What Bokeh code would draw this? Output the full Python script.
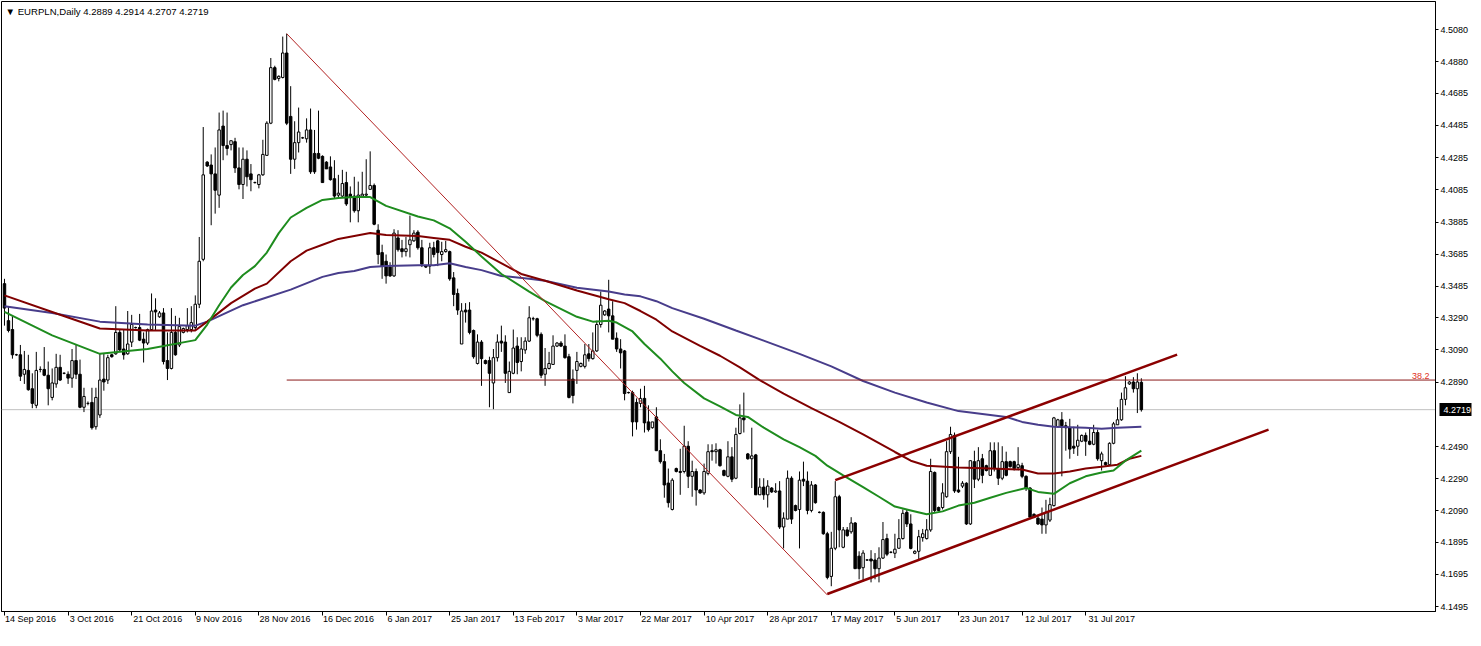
from bokeh.plotting import figure
from bokeh.models import (ColumnDataSource, Range1d, FixedTicker, Label, PrintfTickFormatter,
                          CustomJSTickFormatter, LinearAxis)
from bokeh.embed import file_html
from bokeh.resources import INLINE

# ---------------- data (EURPLN daily) ----------------
opens = [
    4.3502, 4.3272, 4.3217, 4.3060, 4.3060, 4.2939, 4.2963, 4.2849, 4.2746, 4.2969, 4.2969, 4.2933,
    4.2795, 4.2879, 4.2982, 4.2945, 4.2939, 4.2915, 4.3024, 4.2939, 4.2734, 4.2758, 4.2764, 4.2613,
    4.2686, 4.2909, 4.2903, 4.3060, 4.3066, 4.3199, 4.3096, 4.3066, 4.3139, 4.3229, 4.3229, 4.3157,
    4.3133, 4.3217, 4.3338, 4.3296, 4.3320, 4.3024, 4.2975, 4.3199, 4.3121, 4.3199, 4.3217, 4.3217,
    4.3229, 4.3374, 4.3653, 4.4257, 4.4239, 4.4184, 4.4052, 4.4481, 4.4360, 4.4366, 4.4384, 4.4221,
    4.4118, 4.4275, 4.4184, 4.4130, 4.4118, 4.4178, 4.4299, 4.4499, 4.4844, 4.4777, 4.4783, 4.4935,
    4.4541, 4.4275, 4.4378, 4.4408, 4.4402, 4.4457, 4.4311, 4.4311, 4.4293, 4.4257, 4.4227, 4.4154,
    4.4052, 4.4046, 4.4130, 4.4058, 4.4046, 4.3955, 4.4046, 4.4052, 4.4088, 4.4112, 4.3834, 4.3695,
    4.3641, 4.3605, 4.3550, 4.3786, 4.3719, 4.3701, 4.3744, 4.3768, 4.3822, 4.3725, 4.3611, 4.3611,
    4.3725, 4.3768, 4.3683, 4.3701, 4.3701, 4.3538, 4.3441, 4.3127, 4.3338, 4.3338, 4.3211, 4.3006,
    4.3139, 4.3024, 4.3024, 4.2885, 4.3042, 4.3145, 4.3139, 4.2825, 4.2945, 4.3114, 4.3018, 4.3090,
    4.3145, 4.3284, 4.3284, 4.3187, 4.2939, 4.2975, 4.3000, 4.3114, 4.3133, 4.3114, 4.3048, 4.2909,
    4.2963, 4.2988, 4.2988, 4.3066, 4.3036, 4.3084, 4.3248, 4.3308, 4.3344, 4.3302, 4.3163, 4.3096,
    4.3084, 4.2825, 4.2825, 4.2764, 4.2758, 4.2789, 4.2643, 4.2607, 4.2674, 4.2464, 4.2396, 4.2263,
    4.2099, 4.2353, 4.2335, 4.2335, 4.2492, 4.2305, 4.2335, 4.2220, 4.2202, 4.2323, 4.2464, 4.2458,
    4.2470, 4.2341, 4.2305, 4.2426, 4.2293, 4.2571, 4.2668, 4.2444, 4.2414, 4.2438, 4.2190, 4.2238,
    4.2190, 4.2232, 4.2208, 4.2214, 4.1990, 4.2039, 4.2293, 4.2123, 4.2099, 4.2287, 4.2275, 4.2093,
    4.2251, 4.2081, 4.2081, 4.1948, 4.1683, 4.1858, 4.2178, 4.1864, 4.1972, 4.1960, 4.2015, 4.1809,
    4.1737, 4.1785, 4.1791, 4.1785, 4.1731, 4.1797, 4.1918, 4.1833, 4.1827, 4.1858, 4.1918, 4.2081,
    4.2009, 4.1827, 4.1839, 4.1924, 4.1918, 4.1972, 4.2329, 4.2111, 4.2111, 4.2178, 4.2458, 4.2559,
    4.2220, 4.2244, 4.2262, 4.2009, 4.2396, 4.2287, 4.2414, 4.2371, 4.2311, 4.2464, 4.2353, 4.2293,
    4.2396, 4.2396, 4.2396, 4.2359, 4.2371, 4.2305, 4.2232, 4.2069, 4.2045, 4.2039, 4.2003, 4.2033,
    4.2123, 4.2613, 4.2656, 4.2619, 4.2607, 4.2492, 4.2492, 4.2523, 4.2559, 4.2523, 4.2504, 4.2577,
    4.2402, 4.2390, 4.2377, 4.2510, 4.2625, 4.2656, 4.2783, 4.2879, 4.2891, 4.2849, 4.2889,
]
highs = [
    4.3532, 4.3362, 4.3302, 4.3066, 4.3121, 4.3084, 4.3060, 4.2945, 4.3078, 4.2988, 4.3108, 4.3018,
    4.2975, 4.3066, 4.3060, 4.2951, 4.2957, 4.3096, 4.3127, 4.3030, 4.2855, 4.2770, 4.2855, 4.2855,
    4.3066, 4.3066, 4.3060, 4.3066, 4.3362, 4.3217, 4.3217, 4.3332, 4.3308, 4.3235, 4.3314, 4.3199,
    4.3223, 4.3441, 4.3411, 4.3332, 4.3350, 4.3199, 4.3350, 4.3302, 4.3290, 4.3229, 4.3350, 4.3362,
    4.3429, 4.3792, 4.4475, 4.4263, 4.4305, 4.4348, 4.4565, 4.4577, 4.4565, 4.4390, 4.4408, 4.4348,
    4.4348, 4.4330, 4.4245, 4.4136, 4.4184, 4.4396, 4.4511, 4.4904, 4.4856, 4.4796, 4.5037, 4.5055,
    4.4729, 4.4511, 4.4596, 4.4414, 4.4529, 4.4590, 4.4457, 4.4577, 4.4299, 4.4263, 4.4293, 4.4269,
    4.4178, 4.4209, 4.4197, 4.4106, 4.4166, 4.4136, 4.4197, 4.4275, 4.4324, 4.4124, 4.3871, 4.3744,
    4.3683, 4.3635, 4.3840, 4.3834, 4.3774, 4.3792, 4.3925, 4.3834, 4.3834, 4.3774, 4.3617, 4.3756,
    4.3762, 4.3774, 4.3762, 4.3768, 4.3707, 4.3574, 4.3471, 4.3381, 4.3381, 4.3387, 4.3217, 4.3187,
    4.3151, 4.3030, 4.3048, 4.3096, 4.3187, 4.3241, 4.3181, 4.3018, 4.3217, 4.3169, 4.3169, 4.3169,
    4.3362, 4.3296, 4.3290, 4.3199, 4.3102, 4.3078, 4.3181, 4.3139, 4.3145, 4.3187, 4.3066, 4.2969,
    4.3078, 4.3012, 4.3127, 4.3127, 4.3199, 4.3272, 4.3453, 4.3338, 4.3526, 4.3393, 4.3199, 4.3157,
    4.3090, 4.2831, 4.2837, 4.2789, 4.2849, 4.2867, 4.2746, 4.2613, 4.2734, 4.2535, 4.2444, 4.2353,
    4.2293, 4.2359, 4.2476, 4.2619, 4.2523, 4.2402, 4.2353, 4.2226, 4.2384, 4.2504, 4.2504, 4.2510,
    4.2476, 4.2347, 4.2523, 4.2486, 4.2607, 4.2752, 4.2825, 4.2450, 4.2607, 4.2444, 4.2293, 4.2293,
    4.2281, 4.2238, 4.2262, 4.2275, 4.2081, 4.2341, 4.2305, 4.2129, 4.2335, 4.2396, 4.2335, 4.2275,
    4.2257, 4.2087, 4.2087, 4.1960, 4.1960, 4.2275, 4.2190, 4.1990, 4.1990, 4.2051, 4.2021, 4.1839,
    4.1846, 4.1791, 4.1846, 4.1828, 4.1864, 4.2021, 4.1948, 4.1839, 4.1948, 4.2039, 4.2099, 4.2099,
    4.2069, 4.1845, 4.1972, 4.1978, 4.2039, 4.2414, 4.2335, 4.2117, 4.2262, 4.2523, 4.2613, 4.2577,
    4.2426, 4.2275, 4.2268, 4.2402, 4.2464, 4.2486, 4.2444, 4.2377, 4.2516, 4.2516, 4.2516, 4.2492,
    4.2458, 4.2402, 4.2402, 4.2486, 4.2389, 4.2311, 4.2238, 4.2075, 4.2063, 4.2111, 4.2159, 4.2172,
    4.2674, 4.2662, 4.2704, 4.2643, 4.2662, 4.2613, 4.2625, 4.2565, 4.2577, 4.2607, 4.2625, 4.2595,
    4.2458, 4.2396, 4.2516, 4.2643, 4.2734, 4.2825, 4.2927, 4.2897, 4.2921, 4.2945, 4.2914,
]
lows = [
    4.3241, 4.3199, 4.3036, 4.3054, 4.2897, 4.2879, 4.2837, 4.2728, 4.2728, 4.2951, 4.2927, 4.2746,
    4.2777, 4.2855, 4.2897, 4.2939, 4.2879, 4.2855, 4.2909, 4.2728, 4.2704, 4.2746, 4.2595, 4.2595,
    4.2668, 4.2837, 4.2879, 4.3042, 4.3060, 4.3078, 4.3030, 4.3060, 4.3108, 4.3223, 4.3145, 4.3012,
    4.3121, 4.3211, 4.3211, 4.3290, 4.3000, 4.2903, 4.2969, 4.3054, 4.3108, 4.3193, 4.3199, 4.3199,
    4.3211, 4.3350, 4.3641, 4.4227, 4.3865, 4.3937, 4.3973, 4.4269, 4.4299, 4.4330, 4.4190, 4.4088,
    4.4028, 4.4106, 4.4076, 4.4124, 4.4094, 4.4172, 4.4299, 4.4493, 4.4765, 4.4759, 4.4777, 4.4487,
    4.4184, 4.4215, 4.4317, 4.4402, 4.4378, 4.4184, 4.4184, 4.4275, 4.4130, 4.4215, 4.4142, 4.4034,
    4.4034, 4.4034, 4.3985, 4.3883, 4.3943, 4.3883, 4.4034, 4.4034, 4.4088, 4.3865, 4.3623, 4.3532,
    4.3502, 4.3544, 4.3544, 4.3701, 4.3665, 4.3671, 4.3665, 4.3762, 4.3713, 4.3605, 4.3599, 4.3563,
    4.3665, 4.3611, 4.3641, 4.3695, 4.3520, 4.3362, 4.3308, 4.3127, 4.3260, 4.3187, 4.3036, 4.3000,
    4.2867, 4.3000, 4.2734, 4.2722, 4.3018, 4.3078, 4.2885, 4.2825, 4.2939, 4.2939, 4.2957, 4.3066,
    4.3139, 4.3272, 4.3169, 4.2915, 4.2867, 4.2969, 4.3000, 4.3108, 4.3108, 4.3036, 4.2789, 4.2758,
    4.2879, 4.2982, 4.2975, 4.3018, 4.3030, 4.3078, 4.3229, 4.3302, 4.3199, 4.3157, 4.3078, 4.2975,
    4.2777, 4.2819, 4.2553, 4.2595, 4.2734, 4.2577, 4.2583, 4.2601, 4.2464, 4.2384, 4.2172, 4.2111,
    4.2093, 4.2329, 4.2190, 4.2323, 4.2232, 4.2178, 4.2123, 4.2196, 4.2190, 4.2311, 4.2402, 4.2384,
    4.2365, 4.2305, 4.2299, 4.2269, 4.2287, 4.2565, 4.2577, 4.2408, 4.2232, 4.2190, 4.2190, 4.2159,
    4.2111, 4.2202, 4.2202, 4.1978, 4.1857, 4.2039, 4.2009, 4.2087, 4.1857, 4.2244, 4.2069, 4.2081,
    4.2135, 4.2075, 4.1942, 4.1665, 4.1622, 4.1846, 4.1864, 4.1858, 4.1930, 4.1948, 4.1731, 4.1665,
    4.1652, 4.1779, 4.1646, 4.1665, 4.1646, 4.1791, 4.1809, 4.1827, 4.1797, 4.1857, 4.1912, 4.1990,
    4.1851, 4.1821, 4.1779, 4.1899, 4.1912, 4.1960, 4.2081, 4.2087, 4.2099, 4.2172, 4.2444, 4.2202,
    4.2202, 4.2232, 4.2003, 4.2003, 4.2232, 4.2275, 4.2262, 4.2335, 4.2311, 4.2335, 4.2251, 4.2281,
    4.2305, 4.2359, 4.2341, 4.2341, 4.2293, 4.2214, 4.2039, 4.2045, 4.2003, 4.1948, 4.1948, 4.2021,
    4.2117, 4.2607, 4.2305, 4.2464, 4.2414, 4.2444, 4.2432, 4.2517, 4.2432, 4.2498, 4.2498, 4.2402,
    4.2341, 4.2371, 4.2371, 4.2504, 4.2625, 4.2650, 4.2746, 4.2873, 4.2825, 4.2698, 4.2707,
]
closes = [
    4.3350, 4.3211, 4.3060, 4.3060, 4.2927, 4.2969, 4.2843, 4.2758, 4.2963, 4.2969, 4.2933, 4.2849,
    4.2885, 4.2982, 4.2903, 4.2945, 4.2915, 4.3024, 4.2939, 4.2734, 4.2801, 4.2758, 4.2607, 4.2795,
    4.2903, 4.2891, 4.3042, 4.3048, 4.3199, 4.3090, 4.3060, 4.3127, 4.3248, 4.3229, 4.3151, 4.3133,
    4.3217, 4.3332, 4.3326, 4.3320, 4.3018, 4.2975, 4.3199, 4.3060, 4.3235, 4.3223, 4.3241, 4.3260,
    4.3374, 4.3641, 4.4178, 4.4233, 4.4184, 4.4082, 4.4457, 4.4360, 4.4342, 4.4390, 4.4221, 4.4118,
    4.4275, 4.4166, 4.4148, 4.4130, 4.4178, 4.4305, 4.4499, 4.4844, 4.4771, 4.4790, 4.4935, 4.4499,
    4.4275, 4.4378, 4.4444, 4.4408, 4.4457, 4.4197, 4.4197, 4.4281, 4.4130, 4.4215, 4.4148, 4.4046,
    4.4064, 4.4124, 4.3997, 4.4040, 4.3955, 4.4052, 4.4058, 4.4058, 4.4112, 4.3871, 4.3683, 4.3611,
    4.3550, 4.3550, 4.3816, 4.3713, 4.3701, 4.3719, 4.3774, 4.3816, 4.3725, 4.3623, 4.3605, 4.3725,
    4.3683, 4.3695, 4.3701, 4.3713, 4.3532, 4.3435, 4.3338, 4.3332, 4.3326, 4.3199, 4.3048, 4.3139,
    4.3036, 4.3006, 4.2945, 4.3042, 4.3139, 4.3133, 4.2945, 4.2957, 4.3102, 4.3012, 4.3096, 4.3145,
    4.3290, 4.3284, 4.3181, 4.2933, 4.2975, 4.3006, 4.3114, 4.3133, 4.3114, 4.3042, 4.2795, 4.2807,
    4.3018, 4.3006, 4.3060, 4.3036, 4.3084, 4.3248, 4.3368, 4.3332, 4.3302, 4.3157, 4.3096, 4.3072,
    4.2819, 4.2825, 4.2643, 4.2643, 4.2789, 4.2637, 4.2595, 4.2643, 4.2464, 4.2396, 4.2251, 4.2141,
    4.2281, 4.2335, 4.2329, 4.2492, 4.2305, 4.2335, 4.2220, 4.2202, 4.2335, 4.2458, 4.2458, 4.2470,
    4.2371, 4.2311, 4.2426, 4.2287, 4.2565, 4.2668, 4.2656, 4.2414, 4.2432, 4.2190, 4.2238, 4.2190,
    4.2244, 4.2208, 4.2214, 4.1990, 4.2045, 4.2293, 4.2039, 4.2093, 4.2281, 4.2275, 4.2093, 4.2251,
    4.2141, 4.2081, 4.1948, 4.1677, 4.1858, 4.2178, 4.1972, 4.1972, 4.1936, 4.2015, 4.1731, 4.1731,
    4.1828, 4.1785, 4.1779, 4.1731, 4.1797, 4.1912, 4.1821, 4.1833, 4.1852, 4.1918, 4.2075, 4.2009,
    4.1857, 4.1839, 4.1930, 4.1948, 4.1972, 4.2335, 4.2093, 4.2093, 4.2202, 4.2458, 4.2565, 4.2214,
    4.2208, 4.2262, 4.2009, 4.2402, 4.2287, 4.2402, 4.2311, 4.2341, 4.2464, 4.2353, 4.2293, 4.2396,
    4.2311, 4.2365, 4.2353, 4.2377, 4.2305, 4.2232, 4.2051, 4.2051, 4.2009, 4.2003, 4.2081, 4.2129,
    4.2668, 4.2656, 4.2619, 4.2607, 4.2474, 4.2480, 4.2529, 4.2559, 4.2523, 4.2504, 4.2577, 4.2414,
    4.2444, 4.2377, 4.2510, 4.2631, 4.2656, 4.2783, 4.2855, 4.2891, 4.2849, 4.2891, 4.2719,
]

# moving averages (read at selected bars)
ma_green_bar = [0, 12, 24, 36, 48, 51, 54, 57, 60, 63, 66, 69, 72, 76, 80, 84, 88, 92, 96, 104,
                108, 112, 116, 120, 125, 132, 136, 144, 148, 152, 154, 158, 161, 165, 168, 171, 176, 180, 184, 187,
                191, 196, 200, 204, 207, 211, 216, 220, 224, 228, 232, 236, 240, 244, 248, 252, 257, 260, 264, 268,
                272, 276, 279, 282, 286]
ma_green_val = [4.3326, 4.3181, 4.3066, 4.3096, 4.3151, 4.3248, 4.3368, 4.3478, 4.3556, 4.3611,
                4.3695, 4.3816, 4.3913, 4.3973, 4.4022, 4.4034, 4.4040, 4.4040, 4.3985, 4.3919,
                4.3895, 4.3846, 4.3762, 4.3671, 4.3562, 4.3453, 4.3393, 4.3296, 4.3266, 4.3272,
                4.3260, 4.3205, 4.3127, 4.3036, 4.2957, 4.2885, 4.2789, 4.2740, 4.2686, 4.2674,
                4.2607, 4.2535, 4.2486, 4.2432, 4.2371, 4.2311, 4.2238, 4.2178, 4.2117, 4.2093,
                4.2069, 4.2087, 4.2123, 4.2141, 4.2172, 4.2202, 4.2232, 4.2208, 4.2196, 4.2262,
                4.2305, 4.2329, 4.2341, 4.2402, 4.2464]
ma_red_bar = [0, 12, 24, 36, 48, 51, 57, 63, 66, 72, 76, 80, 84, 88, 92, 96, 104, 108, 112, 116,
              120, 130, 136, 144, 152, 156, 160, 164, 168, 175, 180, 185, 190, 196, 203, 210, 216, 224, 228, 232,
              240, 248, 256, 260, 264, 268, 272, 276, 280, 283, 286]
ma_red_val = [4.3429, 4.3326, 4.3223, 4.3211, 4.3211, 4.3266, 4.3381, 4.3471, 4.3502, 4.3641,
              4.3707, 4.3744, 4.3780, 4.3798, 4.3816, 4.3804, 4.3798, 4.3786, 4.3774, 4.3731,
              4.3695, 4.3562, 4.3520, 4.3459, 4.3405, 4.3381, 4.3332, 4.3278, 4.3205, 4.3115,
              4.3054, 4.2982, 4.2903, 4.2818, 4.2728, 4.2643, 4.2565, 4.2456, 4.2402, 4.2371,
              4.2359, 4.2353, 4.2347, 4.2323, 4.2323, 4.2335, 4.2353, 4.2365, 4.2377, 4.2414,
              4.2432]
ma_blue_bar = [0, 12, 24, 36, 48, 51, 60, 72, 80, 84, 88, 92, 96, 104, 108, 112, 116, 120, 125, 132,
               136, 144, 152, 156, 160, 164, 168, 176, 184, 192, 200, 208, 216, 224, 232, 240, 248, 252, 256, 260,
               264, 272, 276, 280, 286]
ma_blue_val = [4.3362, 4.3320, 4.3266, 4.3248, 4.3241, 4.3266, 4.3368, 4.3465, 4.3544, 4.3568,
               4.3580, 4.3605, 4.3611, 4.3617, 4.3617, 4.3629, 4.3605, 4.3586, 4.3550, 4.3532,
               4.3520, 4.3477, 4.3453, 4.3435, 4.3423, 4.3393, 4.3350, 4.3284, 4.3211, 4.3139,
               4.3066, 4.2988, 4.2897, 4.2825, 4.2764, 4.2710, 4.2686, 4.2674, 4.2643, 4.2625,
               4.2613, 4.2607, 4.2601, 4.2607, 4.2613]

# drawn objects
diag_bar = [71, 207]
diag_val = [4.5055, 4.1568]
fib_level = 4.2903
fib_start_bar = 71
chan_up_bar = [209, 295]
chan_up_val = [4.2281, 4.3061]
chan_lo_bar = [207, 318]
chan_lo_val = [4.1574, 4.2595]
last_price = 4.2719

price_ticks = [4.1495, 4.1695, 4.1895, 4.2090, 4.2290, 4.2490, 4.2890, 4.3090, 4.3290,
               4.3485, 4.3685, 4.3885, 4.4085, 4.4285, 4.4485, 4.4685, 4.4880, 4.5080]
date_bars = [0, 16, 32, 48, 64, 80, 96, 112, 128, 144, 160, 176, 192, 208, 224, 240, 256, 272]
date_labels = ["14 Sep 2016", "3 Oct 2016", "21 Oct 2016", "9 Nov 2016", "28 Nov 2016",
               "16 Dec 2016", "6 Jan 2017", "25 Jan 2017", "13 Feb 2017", "3 Mar 2017",
               "22 Mar 2017", "10 Apr 2017", "28 Apr 2017", "17 May 2017", "5 Jun 2017",
               "23 Jun 2017", "12 Jul 2017", "31 Jul 2017"]
title_text = "\u25BC EURPLN,Daily  4.2889 4.2914 4.2707 4.2719"

# ---------------- figure ----------------
FONT = "Liberation Sans"
X0, X1 = -0.75, 360
Y0, Y1 = 4.1465, 4.5255
FRAME_W, FRAME_H = 1434, 610

n = len(closes)
src = ColumnDataSource(dict(
    x=list(range(n)), hi=highs, lo=lows,
    top=[max(o, c) for o, c in zip(opens, closes)],
    bot=[min(o, c) for o, c in zip(opens, closes)],
    fill=["white" if c > o else "black" for o, c in zip(opens, closes)],
))

p = figure(frame_width=FRAME_W, frame_height=FRAME_H, x_range=Range1d(X0, X1), y_range=Range1d(Y0, Y1),
           output_backend="svg", toolbar_location=None, y_axis_location="right",
           min_border_left=1, min_border_top=1, min_border_right=38, min_border_bottom=19,
           background_fill_color="white", border_fill_color="white")
p.outline_line_color = "black"
p.outline_line_width = 1
p.grid.visible = False

ya = p.yaxis[0]
ya.ticker = FixedTicker(ticks=price_ticks)
ya.formatter = PrintfTickFormatter(format="%.4f")
ya.major_label_text_font = FONT
ya.major_label_text_font_size = "9px"
ya.major_label_text_color = "black"
ya.major_tick_out = 3
ya.major_tick_in = 0
ya.minor_tick_out = 0
ya.minor_tick_in = 0
ya.major_label_standoff = 2
ya.axis_line_color = "black"

# current price marker on the price scale: one thick tick drawn back over the scale
box_axis = LinearAxis(ticker=FixedTicker(ticks=[last_price]),
                      formatter=PrintfTickFormatter(format="%.4f"),
                      major_tick_in=32, major_tick_out=0, major_tick_line_width=13,
                      major_tick_line_color="black", minor_tick_in=0, minor_tick_out=0,
                      major_label_standoff=-28, major_label_text_color="white",
                      major_label_text_font=FONT, major_label_text_font_size="9px",
                      axis_line_color=None)
p.add_layout(box_axis, "right")

# bottom axis 1: tick marks at the labelled bars
xa = p.xaxis[0]
xa.ticker = FixedTicker(ticks=date_bars)
xa.formatter = CustomJSTickFormatter(code="return ''")
xa.major_label_text_font_size = "0px"
xa.major_label_standoff = 0
xa.major_tick_out = 4
xa.major_tick_in = 0
xa.minor_tick_out = 0
xa.minor_tick_in = 0
xa.axis_line_color = "black"

# bottom axis 2: date texts, starting at their tick (MT4 style, left aligned)
px_per_bar = FRAME_W / (X1 - X0)
date_centers = [round(b + (len(t) * 4.75 / 2) / px_per_bar, 3) for b, t in zip(date_bars, date_labels)]
lab_axis = LinearAxis(ticker=FixedTicker(ticks=date_centers),
                      major_label_overrides={c: t for c, t in zip(date_centers, date_labels)},
                      major_label_text_font=FONT, major_label_text_font_size="9px",
                      major_label_text_color="black", major_label_standoff=-2,
                      major_tick_out=0, major_tick_in=0, minor_tick_out=0, minor_tick_in=0,
                      axis_line_color=None)
p.add_layout(lab_axis, "below")

# current price line (behind candles)
p.line([X0, X1], [last_price, last_price], line_color="#C0C0C0", line_width=1)

# candles
p.segment(x0="x", y0="lo", x1="x", y1="hi", source=src, line_color="black", line_width=1)
p.vbar(x="x", width=0.62, top="top", bottom="bot", source=src,
       fill_color="fill", line_color="black", line_width=1)

# moving averages
p.line(ma_blue_bar, ma_blue_val, line_color="#483D8B", line_width=2)
p.line(ma_red_bar, ma_red_val, line_color="#800000", line_width=2)
p.line(ma_green_bar, ma_green_val, line_color="#1E8C1E", line_width=2)

# objects
p.line(diag_bar, diag_val, line_color="#B22222", line_width=1)
p.line([fib_start_bar, X1], [fib_level, fib_level], line_color="#8B1A1A", line_width=1)
p.line(chan_up_bar, chan_up_val, line_color="#8B0000", line_width=2.5)
p.line(chan_lo_bar, chan_lo_val, line_color="#8B0000", line_width=2.5)

# texts
p.add_layout(Label(x=X0, y=Y1, x_offset=4, y_offset=-4, text=title_text, text_baseline="top",
                   text_align="left", text_font=FONT, text_font_size="9.6px", text_color="black"))
p.add_layout(Label(x=X1, y=fib_level, x_offset=-6, y_offset=1, text="38.2", text_align="right",
                   text_baseline="bottom", text_font=FONT, text_font_size="9px", text_color="#E0301E"))

open("out.html", "w").write(file_html(p, INLINE, "EURPLN,Daily"))
